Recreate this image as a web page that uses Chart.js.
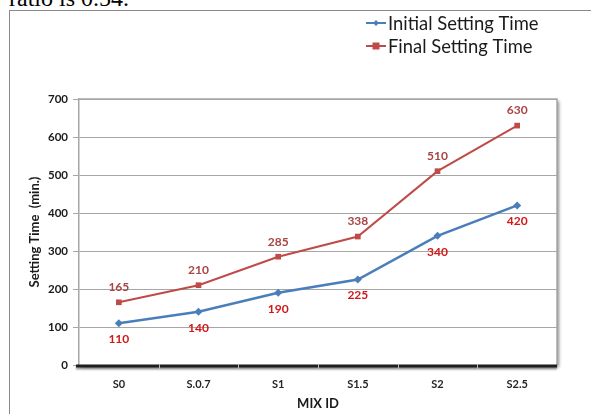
<!DOCTYPE html>
<html>
<head>
<meta charset="utf-8">
<script src="https://cdn.jsdelivr.net/npm/chart.js@4/dist/chart.umd.min.js"></script>
<style>
  html, body { margin: 0; padding: 0; background: #fff; width: 591px; height: 414px; overflow: hidden; }
  #lead { position: absolute; left: 9px; top: -13px; font: 24px/22px "Liberation Serif", "Times New Roman", serif; color: #000; white-space: nowrap; }
  #frame { position: absolute; left: 9px; top: 10px; width: 600px; height: 420px; border-top: 1px solid #8a8a8a; border-left: 1px solid #8a8a8a; }
  #c { position: absolute; left: 0; top: 0; }
</style>
</head>
<body>
<div id="lead">ratio is 0.54.</div>
<div id="frame"></div>
<canvas id="c" width="591" height="414"></canvas>
<script>
// Setting times of each mix (minutes)
const mixIds = ['S0', 'S.0.7', 'S1', 'S1.5', 'S2', 'S2.5'];
const initialSetting = [110, 140, 190, 225, 340, 420];
const finalSetting = [165, 210, 285, 338, 510, 630];
const yTicks = [0, 100, 200, 300, 400, 500, 600, 700];

const BLUE = '#4a7ebb';
const RED = '#be4b48';
const FONT = 'Lato, "Liberation Sans", sans-serif';

// White plot area with a soft grey frame and drop shadow
const plotFrame = {
  id: 'plotFrame',
  beforeDraw(chart) {
    const { ctx, chartArea: a } = chart;
    ctx.save();
    ctx.shadowColor = 'rgba(0,0,0,0.45)';
    ctx.shadowBlur = 3;
    ctx.shadowOffsetX = 2;
    ctx.shadowOffsetY = 2;
    ctx.fillStyle = '#fff';
    ctx.fillRect(a.left, a.top, a.right - a.left, a.bottom - a.top);
    ctx.restore();
    ctx.save();
    ctx.strokeStyle = '#a6a6a6';
    ctx.lineWidth = 1.5;
    ctx.beginPath();
    ctx.moveTo(a.left, a.top);
    ctx.lineTo(a.right, a.top);
    ctx.lineTo(a.right, a.bottom);
    ctx.stroke();
    ctx.restore();
  },
  afterDatasetsDraw(chart) {
    // heavy category axis with small breaks at the band boundaries
    const { ctx, chartArea: a } = chart;
    const y = a.bottom + 1;
    ctx.save();
    ctx.shadowColor = 'rgba(0,0,0,0.4)';
    ctx.shadowBlur = 2;
    ctx.shadowOffsetY = 2;
    ctx.strokeStyle = '#1e1e1e';
    ctx.lineWidth = 3;
    ctx.beginPath();
    ctx.moveTo(a.left - 3, y);
    ctx.lineTo(a.right, y);
    ctx.stroke();
    ctx.restore();
    ctx.save();
    ctx.strokeStyle = '#b8b8b8';
    ctx.lineWidth = 1;
    const n = mixIds.length;
    const band = (a.right - a.left) / n;
    for (let i = 1; i < n; i++) {
      const bx = Math.round(a.left + band * i) + 0.5;
      ctx.beginPath();
      ctx.moveTo(bx, y - 2);
      ctx.lineTo(bx, y + 3);
      ctx.stroke();
    }
    ctx.restore();
  }
};

// Value labels: final times above the points, initial times below
const valueLabels = {
  id: 'valueLabels',
  afterDatasetsDraw(chart) {
    const { ctx } = chart;
    ctx.save();
    ctx.textAlign = 'center';
    ctx.textBaseline = 'middle';
    chart.data.datasets.forEach((ds, di) => {
      const meta = chart.getDatasetMeta(di);
      const above = ds.labelPos === 'above';
      ctx.fillStyle = ds.labelColor;
      ctx.font = 'bold 12px ' + FONT;
      meta.data.forEach((pt, i) => {
        ctx.fillText(String(ds.data[i]), pt.x, pt.y + (above ? -15 : 16));
      });
    });
    ctx.restore();
  }
};

// Legend in the top-right corner: line sample with marker, then name
const cornerLegend = {
  id: 'cornerLegend',
  afterDraw(chart) {
    const { ctx } = chart;
    const x0 = 366, y0 = 23, rowGap = 23, sample = 20;
    ctx.save();
    chart.data.datasets.forEach((ds, i) => {
      const y = y0 + i * rowGap;
      ctx.strokeStyle = ds.borderColor;
      ctx.lineWidth = 2;
      ctx.beginPath();
      ctx.moveTo(x0, y);
      ctx.lineTo(x0 + sample, y);
      ctx.stroke();
      ctx.fillStyle = ds.borderColor;
      const cx = x0 + sample / 2;
      if (ds.pointStyle === 'rectRot') {
        ctx.beginPath();
        ctx.moveTo(cx, y - 3); ctx.lineTo(cx + 3, y); ctx.lineTo(cx, y + 3); ctx.lineTo(cx - 3, y);
        ctx.closePath();
        ctx.fill();
      } else {
        ctx.fillRect(cx - 3.5, y - 3.5, 7, 7);
      }
      ctx.fillStyle = '#1a1a1a';
      ctx.font = '18.4px ' + FONT;
      ctx.textAlign = 'left';
      ctx.textBaseline = 'middle';
      ctx.fillText(ds.label, x0 + sample + 2, y + 1);
    });
    ctx.restore();
  }
};

new Chart(document.getElementById('c'), {
  type: 'line',
  data: {
    labels: mixIds,
    datasets: [
      {
        label: 'Initial Setting Time',
        data: initialSetting,
        borderColor: BLUE,
        backgroundColor: BLUE,
        borderWidth: 2.5,
        pointStyle: 'rectRot',
        pointRadius: 4,
        pointBorderWidth: 0,
        tension: 0,
        labelPos: 'below',
        labelColor: '#d01818'
      },
      {
        label: 'Final Setting Time',
        data: finalSetting,
        borderColor: RED,
        backgroundColor: RED,
        borderWidth: 2,
        pointStyle: 'rect',
        pointRadius: 4,
        pointBorderWidth: 0,
        tension: 0,
        labelPos: 'above',
        labelColor: '#a84442'
      }
    ]
  },
  options: {
    responsive: false,
    animation: false,
    devicePixelRatio: 1,
    layout: { padding: { left: 24, top: 99, right: 34, bottom: 0 } },
    plugins: {
      legend: { display: false },
      tooltip: { enabled: false }
    },
    scales: {
      x: {
        offset: true,
        afterFit(scale) { scale.height = 49; },
        grid: { display: false },
        border: { display: false },
        ticks: {
          color: '#262626',
          font: { family: FONT, size: 11, weight: 'bold' },
          padding: 5,
          maxRotation: 0
        },
        title: {
          display: true,
          text: 'MIX ID',
          color: '#1a1a1a',
          font: { family: FONT, size: 13, weight: 'bold' },
          padding: { top: 4, bottom: 2 }
        }
      },
      y: {
        min: 0,
        max: 700,
        afterFit(scale) { scale.width = 55; },
        afterBuildTicks(scale) { scale.ticks = yTicks.map(v => ({ value: v })); },
        grid: { color: '#a6a6a6', lineWidth: 1, tickLength: 6 },
        border: { color: '#a6a6a6', width: 1.5 },
        ticks: {
          color: '#1a1a1a',
          font: { family: FONT, size: 11.5, weight: 'bold' },
          padding: 5
        },
        title: {
          display: true,
          text: 'Setting Time  (min.)',
          color: '#1a1a1a',
          font: { family: FONT, size: 13, weight: 'bold' },
          padding: { top: 3, bottom: 0 }
        }
      }
    }
  },
  plugins: [plotFrame, valueLabels, cornerLegend]
});
</script>
</body>
</html>
